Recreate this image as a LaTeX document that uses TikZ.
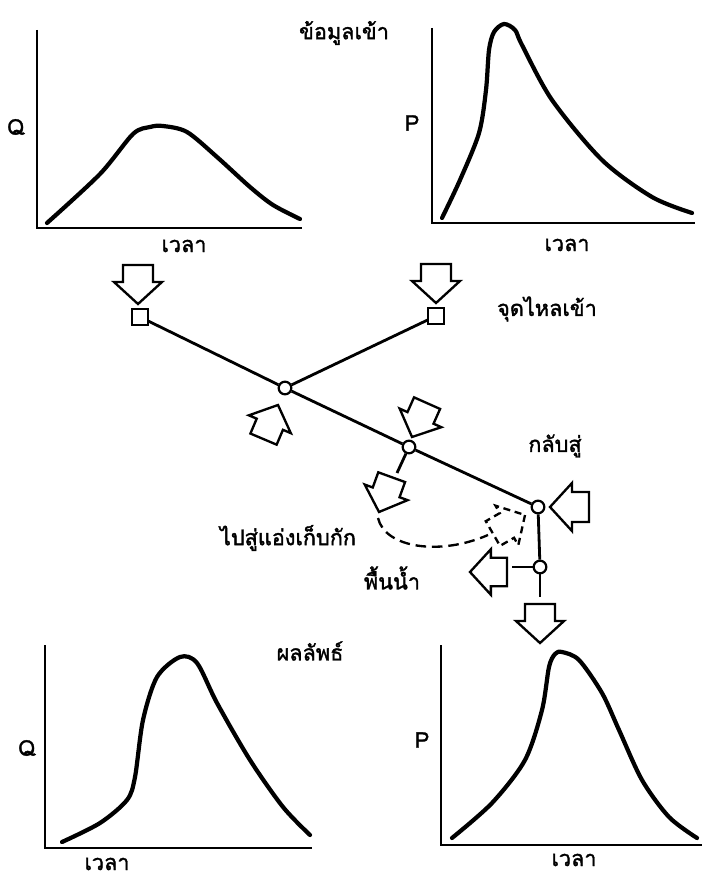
\documentclass[tikz,border=0pt]{standalone}
\usepackage{fontspec}
\newfontfamily\thaifont[Script=Thai, FakeBold=1.6]{Loma}
\usetikzlibrary{calc}

\begin{document}
\begin{tikzpicture}[x=0.03cm, y=-0.03cm, font=\thaifont\fontsize{18.5}{21}\selectfont,
    curve/.style={line width=3.6pt, line cap=round, line join=round},
    axis/.style={line width=1.5pt},
    reach/.style={line width=2.4pt},
    junction/.style={circle, draw, line width=1.9pt, fill=white, inner sep=0pt, minimum size=0.38cm},
    inlet/.style={rectangle, draw, line width=1.7pt, fill=white, inner sep=0pt, minimum size=0.46cm},
    flowarrow/.pic={\draw[line width=2pt, fill=white]
      (0,0) -- (-22,24) -- (-22,15) -- (-39,15) -- (-39,-15) -- (-22,-15) -- (-22,-24) -- cycle;},
    dashline/.style={line width=2pt, dash pattern=on 9pt off 5pt}]
  \useasboundingbox (0,0) rectangle (704,878);

  % input hydrographs
  \draw[axis] (37,30) -- (37,228) -- (302,228);
  \draw[curve] plot[smooth] coordinates {(47,223) (100,174) (133,134) (150,127) (163,126)
    (187,132) (217,157) (250,187) (273,205) (300,219)};
  \node (qin) at (16,127) {Q};
  \node (tin) at (184,246) {เวลา};
  \draw[axis] (432,28) -- (432,223) -- (695,223);
  \draw[curve] plot[smooth] coordinates {(442,218) (460,180) (479,133) (486,90) (489,50) (494,32)
    (504,24) (515,30) (522,45) (552,100) (602,160) (652,197) (692,213)};
  \node (pin) at (412,123) {P};
  \node (tpin) at (567,245) {เวลา};
  \node (inputs) at (344,33) {ข้อมูลเข้า};

  % catchment network
  \node[inlet] (sa) at (140,317) {};
  \node[inlet] (sb) at (436,316) {};
  \node[junction] (j1) at (285,388) {};
  \node[junction] (j2) at (409,447) {};
  \node[junction] (j3) at (538,507) {};
  \node[junction] (j4) at (540,567) {};
  \coordinate (j2out) at (397,473);
  \coordinate (j4out) at (512,567);
  \coordinate (j4down) at (540,597);
  \draw[reach] (sa) -- (j1) -- (j2) -- (j3) -- (j4);
  \draw[reach] (sb) -- (j1);
  \draw[reach] (j2) -- (j2out);
  \draw[reach] (j4) -- (j4out);
  \draw[reach] (j4) -- (j4down);
  \pic[rotate=-90] at (138,304) {flowarrow};
  \pic[rotate=-90] at (436,303) {flowarrow};
  \pic[rotate=67, scale=0.95] at (278,405) {flowarrow};
  \pic[rotate=246, scale=0.95] at (412,437) {flowarrow};
  \pic[rotate=250, scale=0.95] at (379,512) {flowarrow};
  \pic[rotate=30, scale=0.95, dash pattern=on 6pt off 4pt] at (525,515) {flowarrow};
  \pic[rotate=180] at (550,507) {flowarrow};
  \pic[rotate=180, scale=0.95] at (470,572) {flowarrow};
  \pic[rotate=-90] at (540,643) {flowarrow};
  \draw[dashline] (378,518) .. controls (385,548) and (440,556) .. (488,535);
  \node (inflow) at (547,309) {จุดไหลเข้า};
  \node (return) at (555,446) {กลับสู่};
  \node (store) at (288,538) {ไปสู่แอ่งเก็บกัก};
  \node (surface) at (392,578) {พื้นน้ำ};

  % output hydrographs
  \node (results) at (310,651) {ผลลัพธ์};
  \draw[axis] (45,645) -- (45,848) -- (312,848);
  \draw[curve] plot[smooth] coordinates {(62,842) (100,823) (127,800) (135,777) (143,720) (157,677)
    (180,657) (197,663) (217,703) (250,760) (283,807) (310,835)};
  \node (qout) at (27,748) {Q};
  \node (tout) at (107,864) {เวลา};
  \draw[axis] (441,645) -- (441,845) -- (702,845);
  \draw[curve] plot[smooth] coordinates {(452,838) (492,803) (525,760) (542,710) (549,667) (555,654)
    (562,652) (579,660) (602,693) (619,730) (642,780) (669,817) (697,838)};
  \node (pout) at (422,740) {P};
  \node (tpout) at (574,860) {เวลา};
\end{tikzpicture}
\end{document}
